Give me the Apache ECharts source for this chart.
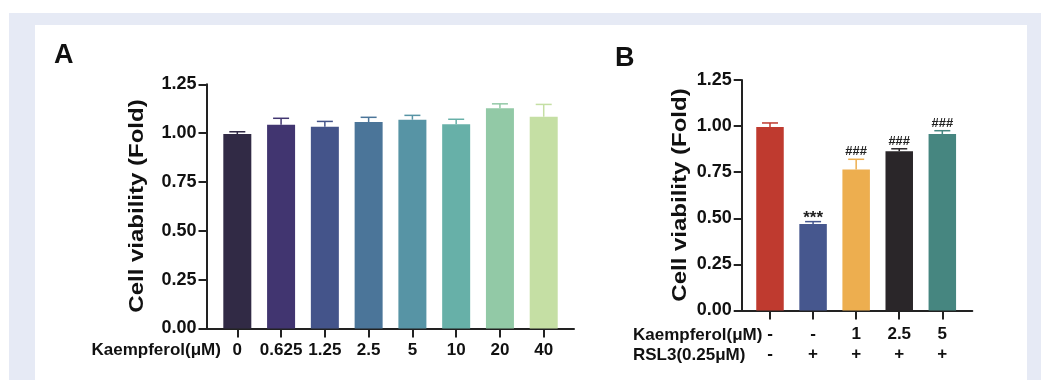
<!DOCTYPE html>
<html>
<head>
<meta charset="utf-8">
<script src="https://cdn.jsdelivr.net/npm/echarts@6/dist/echarts.min.js"></script>
<style>
  html, body { margin: 0; padding: 0; background: #ffffff; overflow: hidden; }
  #frame { position: absolute; left: 9px; top: 13px; width: 1032px; height: 380px; background: #e6eaf5; }
  #panel { position: absolute; left: 35px; top: 25px; width: 992px; height: 370px; background: #ffffff; }
  #chart { position: absolute; left: 0; top: 0; width: 1041px; height: 380px; }
</style>
</head>
<body>
<div id="frame"></div>
<div id="panel"></div>
<div id="chart"></div>
<script>
// ---- Data ----
var catsA = ['0', '0.625', '1.25', '2.5', '5', '10', '20', '40'];
var meanA = [0.995, 1.043, 1.033, 1.057, 1.069, 1.045, 1.128, 1.084];
var errA  = [0.012, 0.033, 0.027, 0.024, 0.022, 0.026, 0.022, 0.063];

var kaempB = ['-', '-', '1', '2.5', '5'];
var rsl3B  = ['-', '+', '+', '+', '+'];
var meanB  = [0.995, 0.469, 0.764, 0.863, 0.957];
var errB   = [0.022, 0.013, 0.056, 0.014, 0.018];
var sigB   = ['', '***', '###', '###', '###'];

// ---- Styles ----
var colorsA = ['#312a45', '#413570', '#44548a', '#4b7599', '#5794a5', '#67b0a8', '#92c9a6', '#c5dfa4'];
var colorsB = ['#bf3a2f', '#46578e', '#edae4f', '#2a2629', '#468680'];
var FONT = '"Liberation Sans", Arial, Helvetica, sans-serif';
var AX = '#222222';

function idx(arr) { return arr.map(function (_, i) { return i; }); }

function yAxisCfg(gridIndex) {
  return {
    type: 'value', gridIndex: gridIndex, min: 0, max: 1.25, interval: 0.25,
    axisLine: { show: true, onZero: false, lineStyle: { color: AX, width: 2 } },
    axisTick: { show: true, length: 8, lineStyle: { color: AX, width: 2 } },
    splitLine: { show: false },
    axisLabel: { margin: 10, color: '#111', fontFamily: FONT, fontWeight: 'bold', fontSize: 18,
      formatter: function (v) { return v.toFixed(2); } }
  };
}

function errSeries(xi, yi, means, errs, colors, sig) {
  return {
    type: 'custom', xAxisIndex: xi, yAxisIndex: yi, z: 5,
    data: means.map(function (m, i) { return [i, m, m + errs[i]]; }),
    encode: { x: 0, y: [1, 2] },
    renderItem: function (params, api) {
      var i = api.value(0);
      var p0 = api.coord([i, api.value(1)]);
      var p1 = api.coord([i, api.value(2)]);
      var c = colors[params.dataIndex];
      var hw = 8;
      var children = [
        { type: 'line', shape: { x1: p0[0], y1: p0[1], x2: p1[0], y2: p1[1] }, style: { stroke: c, lineWidth: 1.5 } },
        { type: 'line', shape: { x1: p1[0] - hw, y1: p1[1], x2: p1[0] + hw, y2: p1[1] }, style: { stroke: c, lineWidth: 1.5 } }
      ];
      var s = sig ? sig[params.dataIndex] : '';
      if (s) {
        var isStar = s.charAt(0) === '*';
        children.push({ type: 'text', x: p1[0], y: p1[1] + (isStar ? 5 : -1),
          style: { text: s, fill: '#222', font: (isStar ? 'bold 17px ' : 'bold 13px ') + FONT, textAlign: 'center', textVerticalAlign: 'bottom' } });
      }
      return { type: 'group', children: children };
    }
  };
}

var chart = echarts.init(document.getElementById('chart'), null, { renderer: 'canvas' });
var option = {
  animation: false,
  backgroundColor: 'transparent',
  grid: [
    { left: 206.5, top: 84.3, width: 367.5, height: 244.2 },
    { left: 741.7, top: 80, width: 230.6, height: 230.5 }
  ],
  xAxis: [
    { type: 'value', gridIndex: 0, min: -0.704, max: 7.692,
      axisLine: { show: true, onZero: false, lineStyle: { color: AX, width: 2 } },
      axisTick: { show: true, length: 9, customValues: idx(catsA), lineStyle: { color: AX, width: 2 } },
      splitLine: { show: false },
      axisLabel: { customValues: idx(catsA), margin: 13, color: '#111', fontFamily: FONT, fontWeight: 'bold', fontSize: 17,
        formatter: function (v) { return catsA[Math.round(v)]; } }
    },
    { type: 'value', gridIndex: 1, min: -0.657, max: 4.696,
      axisLine: { show: true, onZero: false, lineStyle: { color: AX, width: 2 } },
      axisTick: { show: true, length: 9, customValues: idx(kaempB), lineStyle: { color: AX, width: 2 } },
      splitLine: { show: false },
      axisLabel: { customValues: idx(kaempB), margin: 14, color: '#111', fontFamily: FONT, fontWeight: 'bold', fontSize: 17, lineHeight: 20,
        formatter: function (v) { var i = Math.round(v); return kaempB[i] + '\n' + rsl3B[i]; } }
    }
  ],
  yAxis: [yAxisCfg(0), yAxisCfg(1)],
  series: [
    { type: 'bar', xAxisIndex: 0, yAxisIndex: 0, barWidth: 28, z: 3,
      data: meanA.map(function (m, i) { return { value: [i, m], itemStyle: { color: colorsA[i] } }; }) },
    errSeries(0, 0, meanA, errA, colorsA, null),
    { type: 'bar', xAxisIndex: 1, yAxisIndex: 1, barWidth: 27.5, z: 3,
      data: meanB.map(function (m, i) { return { value: [i, m], itemStyle: { color: colorsB[i] } }; }) },
    errSeries(1, 1, meanB, errB, colorsB, sigB)
  ],
  graphic: [
    { type: 'text', left: 54, top: 42, style: { text: 'A', font: 'bold 27px ' + FONT, fill: '#111' } },
    { type: 'text', left: 615, top: 45, style: { text: 'B', font: 'bold 27px ' + FONT, fill: '#111' } },
    { type: 'text', x: 137, y: 206, rotation: Math.PI / 2, scaleX: 1.2,
      style: { text: 'Cell viability (Fold)', font: 'bold 20px ' + FONT, fill: '#111', textAlign: 'center', textVerticalAlign: 'middle' } },
    { type: 'text', x: 680, y: 195, rotation: Math.PI / 2, scaleX: 1.2,
      style: { text: 'Cell viability (Fold)', font: 'bold 20px ' + FONT, fill: '#111', textAlign: 'center', textVerticalAlign: 'middle' } },
    { type: 'text', x: 91.5, y: 350, style: { text: 'Kaempferol(μM)', font: 'bold 17px ' + FONT, fill: '#111', textAlign: 'left', textVerticalAlign: 'middle' } },
    { type: 'text', x: 633, y: 335, style: { text: 'Kaempferol(μM)', font: 'bold 17px ' + FONT, fill: '#111', textAlign: 'left', textVerticalAlign: 'middle' } },
    { type: 'text', x: 633, y: 355, style: { text: 'RSL3(0.25μM)', font: 'bold 17px ' + FONT, fill: '#111', textAlign: 'left', textVerticalAlign: 'middle' } }
  ]
};
chart.setOption(option);
</script>
</body>
</html>
